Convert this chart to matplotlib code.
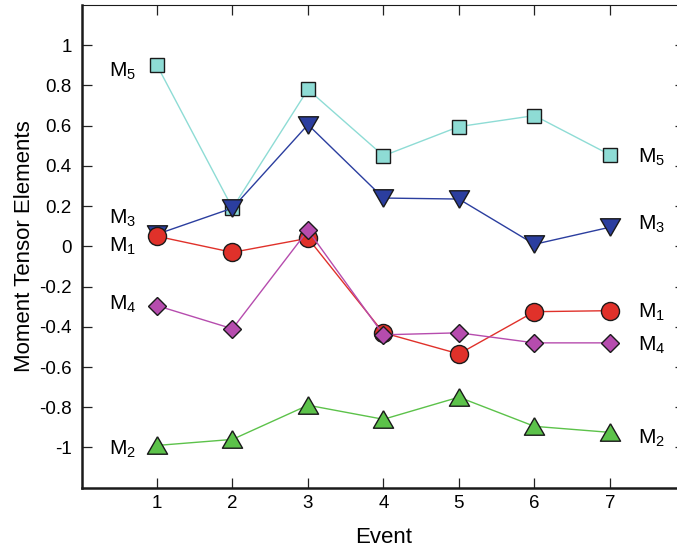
import matplotlib
matplotlib.use("Agg")
import matplotlib.pyplot as plt
from matplotlib.ticker import FixedLocator

plt.rcParams["font.family"] = ["Liberation Sans", "DejaVu Sans"]
plt.rcParams["mathtext.default"] = "regular"
plt.rcParams["axes.unicode_minus"] = False

events = [1, 2, 3, 4, 5, 6, 7]
m1 = [0.05, -0.03, 0.04, -0.43, -0.535, -0.325, -0.32]
m2 = [-0.99, -0.96, -0.79, -0.86, -0.75, -0.895, -0.925]
m3 = [0.06, 0.19, 0.605, 0.24, 0.235, 0.01, 0.095]
m4 = [-0.295, -0.41, 0.08, -0.44, -0.43, -0.48, -0.48]
m5 = [0.90, 0.19, 0.78, 0.45, 0.595, 0.65, 0.455]

names = ["M$_1$", "M$_2$", "M$_3$", "M$_4$", "M$_5$"]

# triangle shapes (equilateral-ish)
tri_up = [(0, 0.866), (-1, -0.866), (1, -0.866), (0, 0.866)]
tri_dn = [(0, -0.866), (-1, 0.866), (1, 0.866), (0, -0.866)]

series = [
    # data, colour, marker, size
    (m5, "#8edcd5", "s", 10.5),
    (m3, "#2b3e9f", tri_dn, 14.5),
    (m1, "#e0312a", "o", 13),
    (m4, "#b64cae", "D", 9),
    (m2, "#5cc24a", tri_up, 14.5),
]

fig = plt.figure(figsize=(6.77, 5.5), dpi=100)
ax = fig.add_axes([0.1204, 0.1133, 0.892, 0.8777])

for vals, col, mk, ms in series:
    ax.plot(events, vals, color=col, lw=1.0, marker=mk, ms=ms,
            mfc=col, mec="#1a1a1a", mew=1.0, zorder=3)

# series labels at left and right ends
left_y = [0.0, -1.01, 0.14, -0.29, 0.87]
right_y = [-0.33, -0.955, 0.11, -0.49, 0.44]
for name, ly, ry in zip(names, left_y, right_y):
    ax.text(0.37, ly, name, fontsize=15, ha="left", va="center")
    ax.text(7.37, ry, name, fontsize=15, ha="left", va="center")

ax.set_xlim(0, 8)
ax.set_ylim(-1.2, 1.2)
ax.xaxis.set_major_locator(FixedLocator(events))
yt = [-1, -0.8, -0.6, -0.4, -0.2, 0, 0.2, 0.4, 0.6, 0.8, 1]
ax.yaxis.set_major_locator(FixedLocator(yt))
ax.set_yticklabels(["-1", "-0.8", "-0.6", "-0.4", "-0.2", "0",
                    "0.2", "0.4", "0.6", "0.8", "1"])
ax.tick_params(direction="in", length=7, width=0.9, labelsize=13.5,
               top=True, right=True, color="#222222")
ax.tick_params(axis="y", pad=7)
ax.tick_params(axis="x", pad=5)

ax.spines["left"].set_linewidth(1.8)
ax.spines["bottom"].set_linewidth(1.8)
ax.spines["top"].set_linewidth(0.8)
ax.spines["right"].set_linewidth(0.8)
for s in ax.spines.values():
    s.set_color("#1a1a1a")

ax.set_xlabel("Event", fontsize=16, labelpad=11)
ax.set_ylabel("Moment Tensor Elements", fontsize=16, labelpad=3)

fig.savefig("out.png", dpi=100)
